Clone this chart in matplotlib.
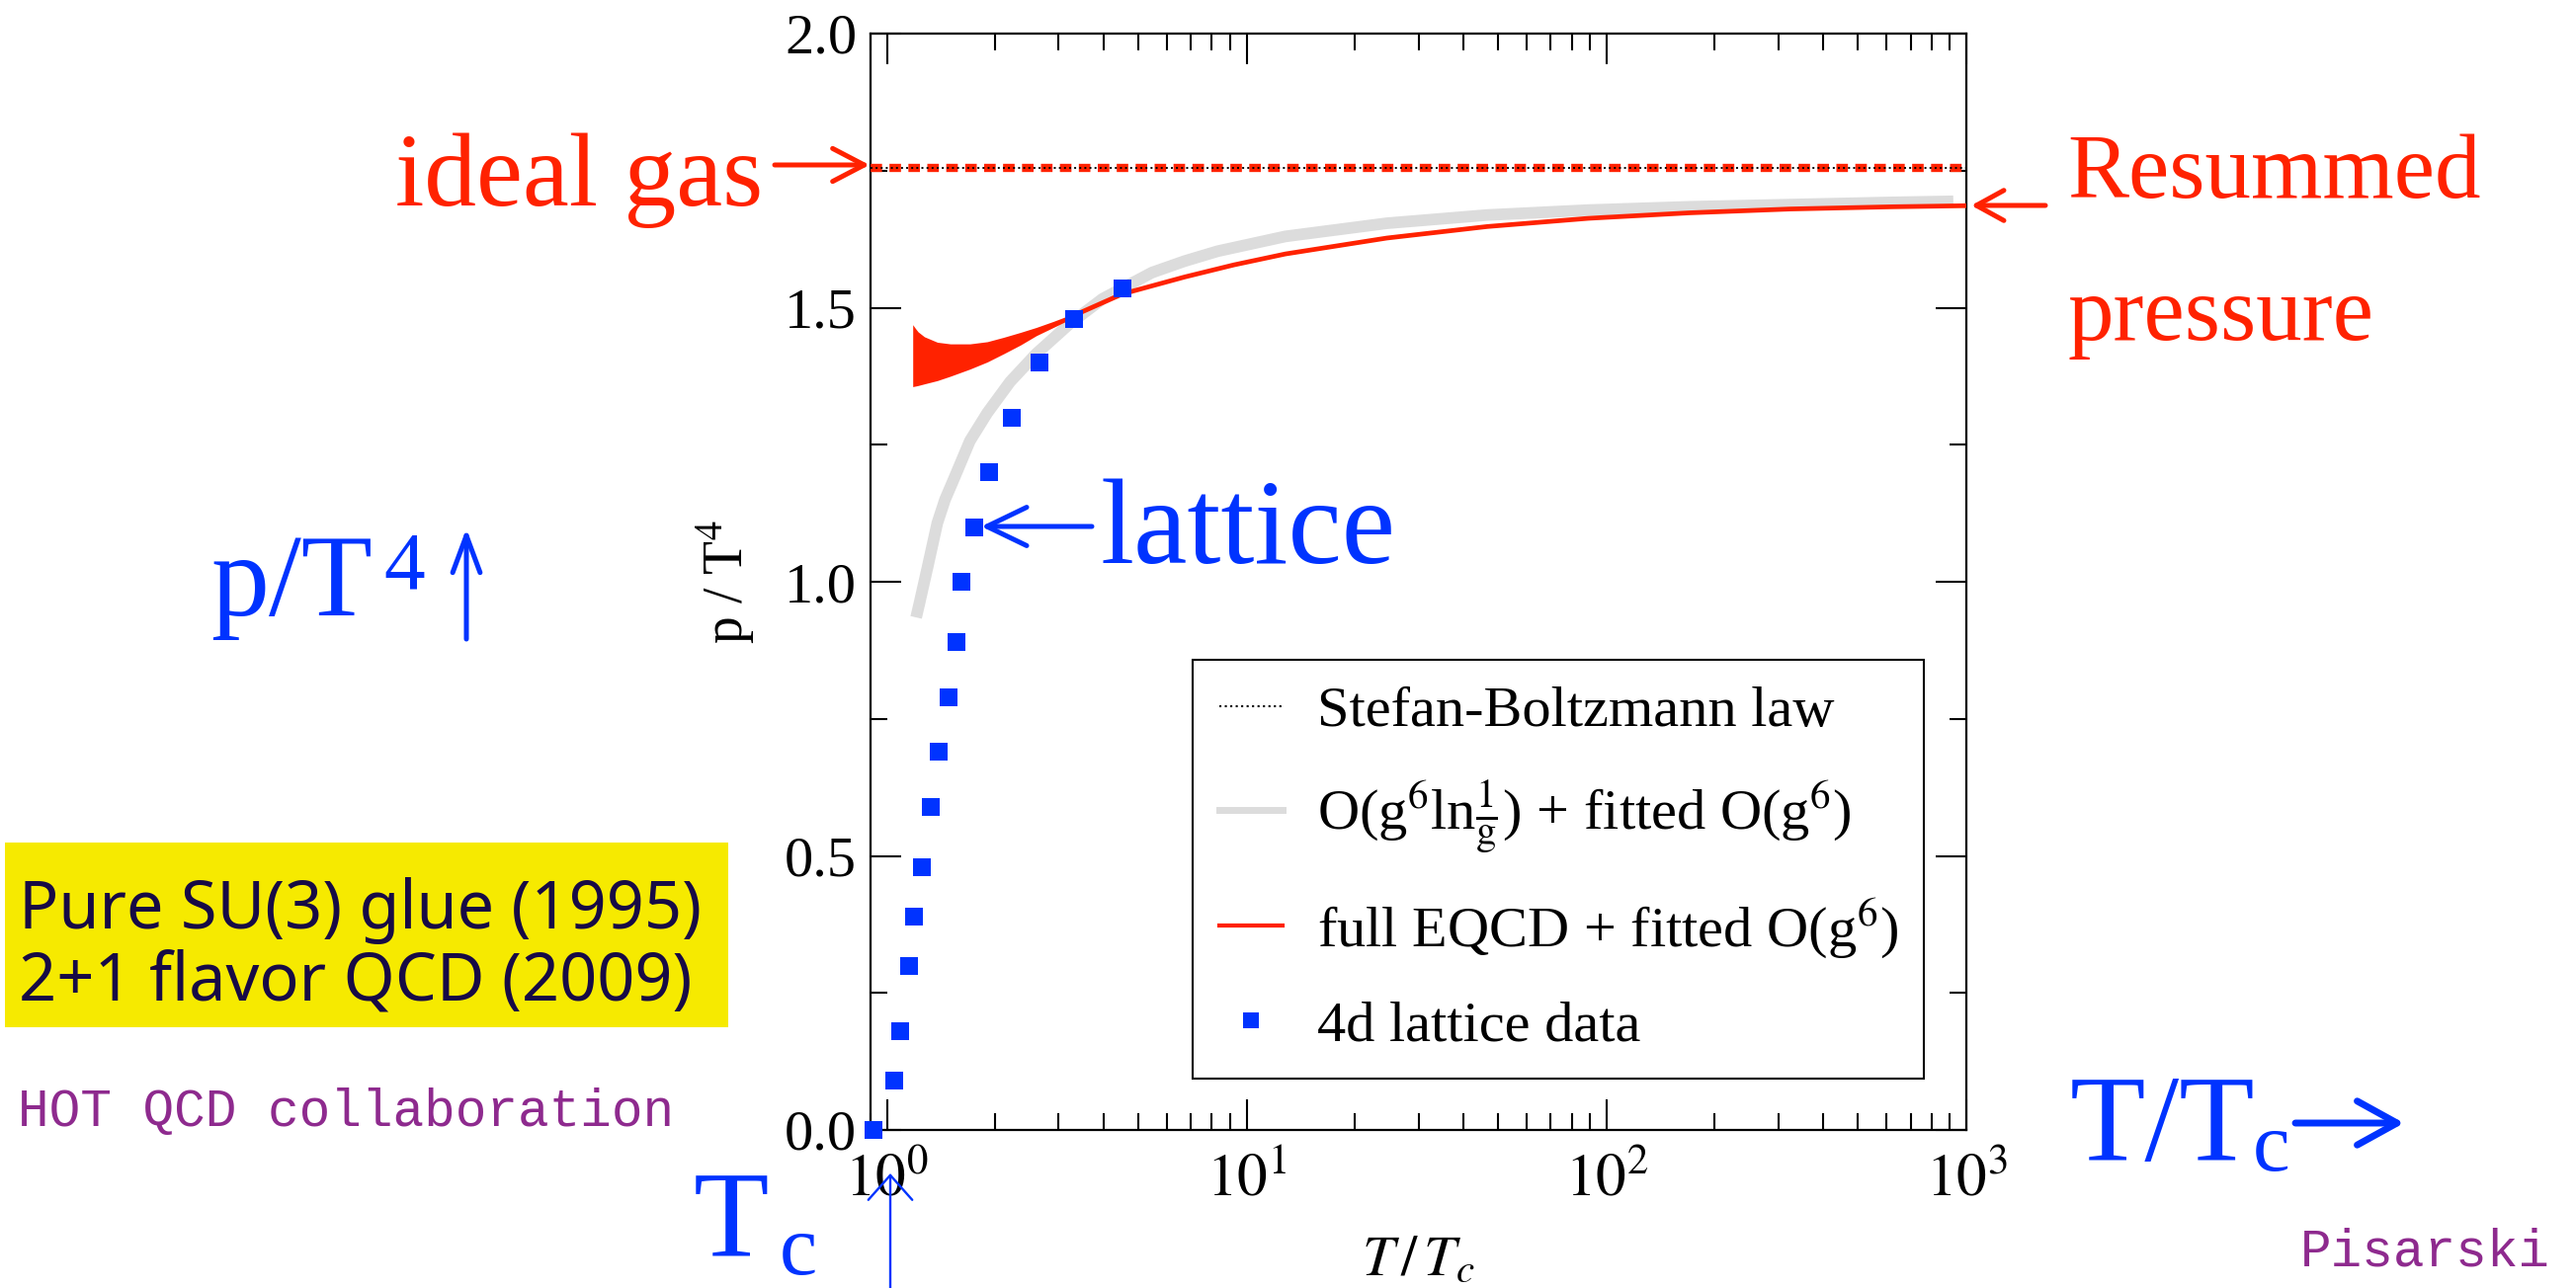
import numpy as np
import matplotlib.pyplot as plt
from matplotlib.patches import FancyArrowPatch, Rectangle
from matplotlib.lines import Line2D

W, H = 2607, 1304

# 4d lattice data
lat_T = [0.915, 1.05, 1.09, 1.15, 1.19, 1.25, 1.32, 1.39, 1.48, 1.56, 1.61,
         1.75, 1.92, 2.22, 2.65, 3.32, 4.51]
lat_p = [0.0, 0.09, 0.18, 0.30, 0.39, 0.48, 0.59, 0.69, 0.79, 0.89, 1.0,
         1.10, 1.20, 1.30, 1.40, 1.48, 1.535]

# O(g^6 ln 1/g) + fitted O(g^6) band (centre line)
gray_T = [1.205, 1.23, 1.30, 1.38, 1.45, 1.54, 1.70, 1.90, 2.20, 2.60, 3.21,
          3.97, 5.45, 6.72, 8.3, 12.8, 24.5, 46.6, 89, 170, 324, 618, 920]
gray_p = [0.935, 0.96, 1.03, 1.107, 1.15, 1.19, 1.257, 1.308, 1.365, 1.416, 1.47,
          1.516, 1.564, 1.585, 1.603, 1.630, 1.654, 1.669, 1.678, 1.684, 1.688, 1.692, 1.694]

# full EQCD band (low T) and curve
band_T = [1.179, 1.20, 1.22, 1.27, 1.38, 1.50, 1.70, 1.90, 2.11, 2.35, 2.60, 2.90, 3.21]
band_hi = [1.469, 1.462, 1.456, 1.447, 1.437, 1.434, 1.434, 1.438, 1.446, 1.455, 1.464, 1.475, 1.486]
band_lo = [1.356, 1.357, 1.358, 1.361, 1.367, 1.375, 1.388, 1.401, 1.416, 1.432, 1.449, 1.464, 1.478]
eqcd_T = [3.21, 4.51, 6.72, 9.2, 12.8, 24.5, 46.6, 89, 170, 324, 618, 1000]
eqcd_p = [1.482, 1.525, 1.556, 1.578, 1.598, 1.627, 1.648, 1.663, 1.673, 1.680, 1.684, 1.686]

sb_p = 1.7546  # Stefan-Boltzmann limit

x_ticks = [1, 10, 100, 1000]
x_labels = [r"$\mathrm{10}^{0}$", r"$\mathrm{10}^{1}$", r"$\mathrm{10}^{2}$", r"$\mathrm{10}^{3}$"]
y_ticks = [0.0, 0.5, 1.0, 1.5, 2.0]

RED = "#ff2200"
BLUE = "#0033ff"
GRAY = "#dcdcdc"
PURPLE = "#8e2a8e"

plt.rcParams['font.family'] = ['Liberation Serif', 'DejaVu Serif']
plt.rcParams['mathtext.fontset'] = 'stix'

fig = plt.figure(figsize=(W / 100, H / 100), dpi=100)


def fpos(x, y):
    return x / W, 1 - y / H


def arrow(x0, y0, x1, y1, color, lw, hl, hw):
    a = FancyArrowPatch(fpos(x0, y0), fpos(x1, y1), transform=fig.transFigure,
                        arrowstyle=f"->,head_length={hl},head_width={hw}",
                        color=color, lw=lw, mutation_scale=1, shrinkA=0, shrinkB=0)
    fig.add_artist(a)


def label(x, y, s, size, color, **kw):
    fig.text(*fpos(x, y), s, fontsize=size, color=color, ha='left', va='baseline', **kw)


ax = fig.add_axes([881 / W, 1 - 1144 / H, (1990 - 881) / W, (1144 - 34) / H])
ax.set_xscale('log')
ax.set_xlim(0.9, 1000)
ax.set_ylim(0, 2.0)

ax.plot(gray_T, gray_p, color=GRAY, lw=8.5, solid_capstyle='butt', zorder=2)
ax.fill_between(band_T, band_lo, band_hi, color=RED, lw=0, zorder=3)
ax.plot(eqcd_T, eqcd_p, color=RED, lw=3.4, zorder=3)
ax.axhline(sb_p, color=RED, lw=6, ls=(0, (1.4, 0.9)), zorder=4)
ax.axhline(sb_p, color='black', lw=1.4, ls=':', zorder=5)
ax.plot(lat_T, lat_p, 's', color=BLUE, ms=12.5, mew=0, clip_on=False, zorder=6)

ax.set_xticks(x_ticks)
ax.set_xticklabels(x_labels)
ax.set_yticks(y_ticks)
ax.set_yticklabels([f"{v:.1f}" for v in y_ticks])
ax.set_yticks(np.arange(0.25, 2.0, 0.5), minor=True)
ax.tick_params(which='both', direction='in', top=True, right=True, width=1.5)
ax.tick_params(which='major', length=22)
ax.tick_params(which='minor', length=12)
ax.tick_params(axis='x', pad=17, labelsize=44)
ax.tick_params(axis='y', pad=10, labelsize=42)
for s in ax.spines.values():
    s.set_linewidth(1.6)

ax.set_xlabel(r"$T\,/\,T_c$", fontsize=42, labelpad=20)
ax.set_ylabel(r"p / T$^4$", fontsize=40, labelpad=20)

handles = [
    Line2D([], [], color='black', ls=':', lw=1.5),
    Line2D([], [], color=GRAY, lw=5),
    Line2D([], [], color=RED, lw=3),
    Line2D([], [], color=BLUE, marker='s', ls='none', ms=12, mew=0),
]
names = [
    "Stefan-Boltzmann law",
    r"O(g$^6$ln$\frac{1}{\mathrm{g}}$) + fitted O(g$^6$)",
    r"full EQCD + fitted O(g$^6$)",
    "4d lattice data",
]
leg = ax.legend(handles, names, loc='lower right',
                bbox_to_anchor=((1947 - 881) / 1109, (1144 - 1092) / 1110),
                borderaxespad=0, fontsize=42, frameon=True, fancybox=False,
                edgecolor='black', framealpha=1, handlelength=1.1,
                handletextpad=0.6, labelspacing=0.7, borderpad=0.45)
leg.get_frame().set_linewidth(1.5)

# annotations around the axes
label(400, 208, "ideal gas", 76, RED)
arrow(784, 167, 880, 167, RED, 3.6, 23, 12)

label(2092, 200, "Resummed", 67, RED)
label(2092, 344, "pressure", 67, RED)
arrow(2070, 208, 1995, 208, RED, 3.6, 20, 11)

label(1113, 570, "lattice", 88, BLUE)
arrow(1105, 533, 993, 533, BLUE, 3.6, 29, 14)

label(213, 623, "p/T", 85, BLUE)
label(388, 596, "4", 60, BLUE)
arrow(472, 647, 472, 535, BLUE, 3.6, 27, 10)

label(702, 1273, "T", 90, BLUE)
label(789, 1290, "c", 62, BLUE)
arrow(901, 1304, 901, 1188, BLUE, 1.7, 18, 16)

label(2095, 1175, "T/T", 90, BLUE)
label(2280, 1185, "c", 61, BLUE)
arrow(2323, 1137, 2433, 1137, BLUE, 5, 29, 16)

fig.add_artist(Rectangle(fpos(5, 1040), 732 / W, 187 / H, transform=fig.transFigure,
                         facecolor="#f6ea00", edgecolor='none'))
label(19, 940, "Pure SU(3) glue (1995)", 48, "#170a45", family='Noto Sans')
label(19, 1012, "2+1 flavor QCD (2009)", 48, "#170a45", family='Noto Sans')

label(18, 1140, "HOT QCD collaboration", 38, PURPLE, family='Liberation Mono')
label(2328, 1282, "Pisarski", 38, PURPLE, family='Liberation Mono')

fig.savefig("out.png", dpi=100)
